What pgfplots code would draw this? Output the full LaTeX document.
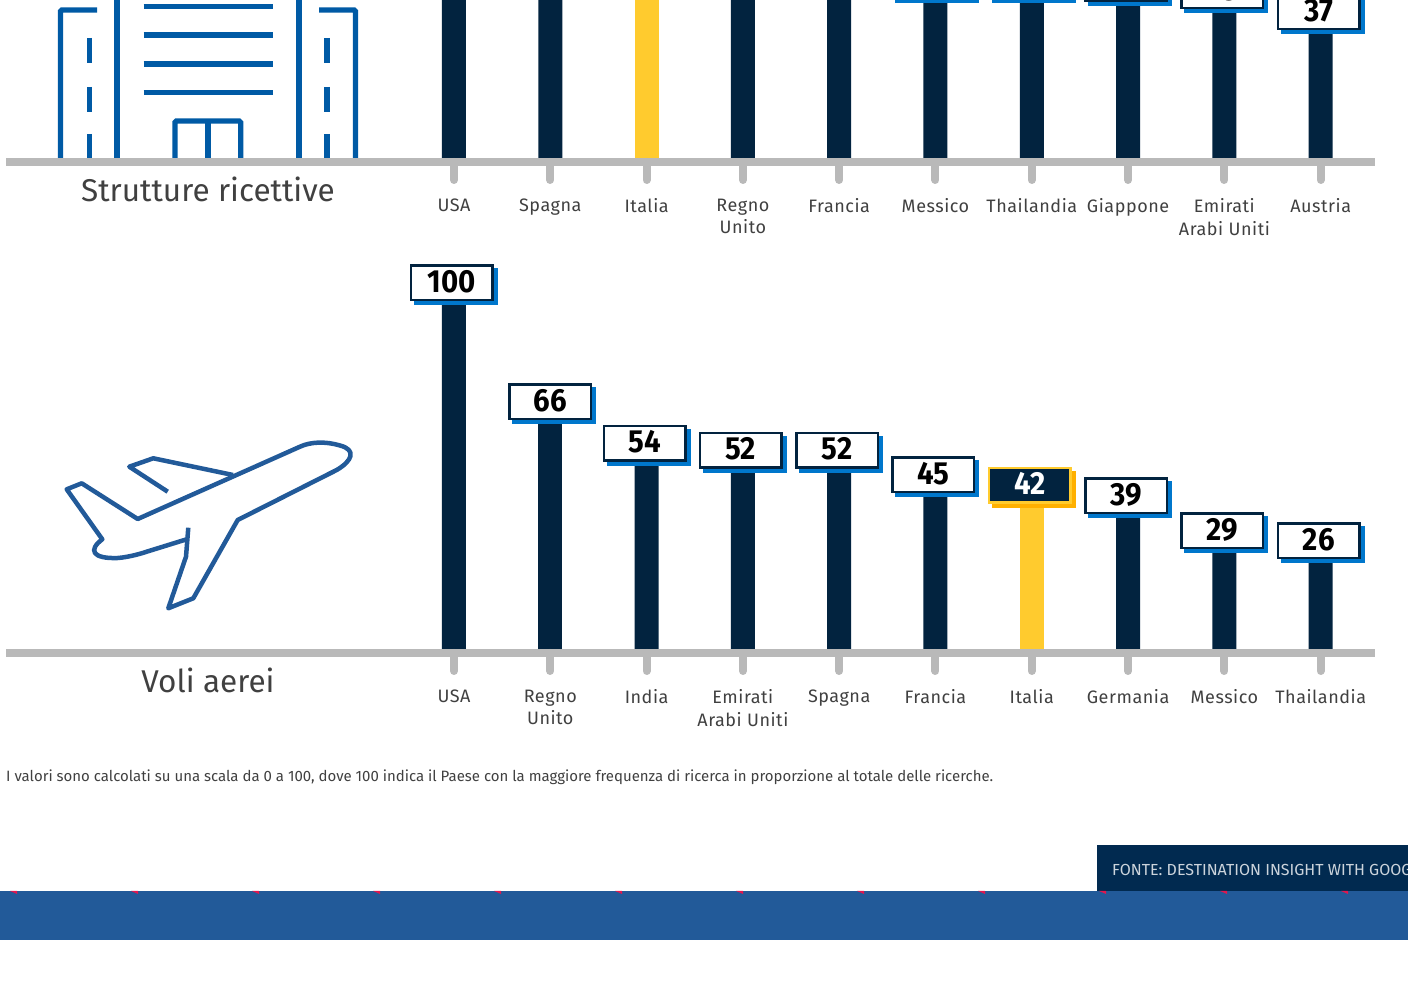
\documentclass[border=0pt]{standalone}
\usepackage{fontspec}
\usepackage{pgfplots}
\usepackage{pgfplotstable}
\pgfplotsset{compat=1.18}
\usetikzlibrary{shadows}
\setmainfont{Fira Sans}
\newfontfamily\lblfont[LetterSpace=3]{Fira Sans}
\newfontfamily\numfont[FakeStretch=0.92]{Fira Sans}
\definecolor{navy}{HTML}{02233F}
\definecolor{sblue}{HTML}{0077CC}
\definecolor{hiyellow}{HTML}{FFCB2E}
\definecolor{hishadow}{HTML}{FFB000}
\definecolor{basegray}{HTML}{B9B9B9}
\definecolor{iconblue}{HTML}{005AA5}
\definecolor{planeblue}{HTML}{225A99}
\definecolor{srcnavy}{HTML}{012A50}
\definecolor{tipred}{HTML}{E0174F}
\definecolor{txt}{HTML}{404040}

% top panel: these bars run off the picture, heights only estimated
\pgfplotstableread{
x y
0 100
1 82
3 64
4 58
}\topoff
\pgfplotstableread{
x y
2 72
}\tophi
\pgfplotstableread{
x y
5 46
6 46
7 45
8 43
9 37
}\topnavy
\pgfplotstableread{
x y
0 100
2 54
3 52
4 52
5 45
7 39
8 29
9 26
}\botnavy
\pgfplotstableread{
x y
1 66
}\botcentred
\pgfplotstableread{
x y
6 42
}\bothi

\tikzset{
  signbox/.style={
    anchor=center, xshift=-2pt, yshift=21.4pt, inner sep=0pt,
    minimum width=81.5pt, minimum height=34.5pt, line width=2.5pt,
  },
}
\pgfplotsset{
  panel/.style={
    x=96.3pt, y=3.486pt,
    xmin=-4.652, xmax=9.564, ymin=0,
    anchor=south west,
    axis x line=bottom,
    axis y line=none,
    axis line style={-, draw=basegray, line width=8pt},
    clip=false,
    axis on top,
    xtick={0,...,9},
    major tick length=18pt,
    x tick style={draw=basegray, line width=8pt, line cap=round},
    xticklabel style={font=\lblfont\fontsize{18}{22.5}\selectfont, text=txt, align=center, anchor=north, yshift=-15.3pt,
      execute at begin node={\rule{0pt}{15pt}}},
    ybar, bar width=24pt, bar shift=0pt,
    /pgf/number format/assume math mode=true,
  },
  boxed/.style={
    nodes near coords={\raisebox{3pt}{\numfont\bfseries\fontsize{32}{32}\selectfont\pgfmathprintnumber{\pgfplotspointmeta}}},
  },
  navybar/.style={
    boxed, fill=navy, draw=none,
    every node near coord/.style={
      signbox, draw=navy, fill=white, text=black,
      general shadow={shadow xshift=4pt, shadow yshift=-4pt, fill=sblue, draw=sblue},
    },
  },
  hibar/.style={
    boxed, fill=hiyellow, draw=none,
    every node near coord/.style={
      signbox, draw=hiyellow, fill=navy, text=white,
      general shadow={shadow xshift=4pt, shadow yshift=-4pt, fill=hishadow, draw=hishadow},
    },
  },
}

\begin{document}
\begin{tikzpicture}
\useasboundingbox (0,0) rectangle (1408pt,993pt);
\clip (0,0) rectangle (1408pt,993pt);

% one-line labels get an empty second line so all first lines sit level
\begin{axis}[panel, at={(6pt,831pt)}, ymax=47,
  xticklabels={{USA\\~},{Spagna\\~},{Italia\\~},{Regno\\Unito},{Francia\\~},{Messico\\~},{Thailandia\\~},{Giappone\\~},{Emirati\\Arabi Uniti},{Austria\\~}}]
  \addplot[fill=navy, draw=none] table[x=x,y=y] {\topoff};
  \addplot[fill=hiyellow, draw=none] table[x=x,y=y] {\tophi};
  \addplot[navybar] table[x=x,y=y] {\topnavy};
\end{axis}

\begin{axis}[panel, at={(6pt,340pt)}, ymax=105,
  xticklabels={{USA\\~},{Regno\\Unito},{India\\~},{Emirati\\Arabi Uniti},{Spagna\\~},{Francia\\~},{Italia\\~},{Germania\\~},{Messico\\~},{Thailandia\\~}}]
  \addplot[navybar] table[x=x,y=y] {\botnavy};
  % this one sign sits centred on its bar
  \addplot[navybar, every node near coord/.append style={xshift=2pt}] table[x=x,y=y] {\botcentred};
  \addplot[hibar] table[x=x,y=y] {\bothi};
\end{axis}

% everything below is in reference pixels, y downwards
\begin{scope}[x=1pt,y=-1pt,yshift=993pt]
  % hotel icon
  \begin{scope}[draw=iconblue, line width=5.3pt]
    \draw[rounded corners=1.5pt] (60.5,158) -- (60.5,10) -- (97,10);
    \draw[rounded corners=1.5pt] (355.5,158) -- (355.5,10) -- (319,10);
    \draw (117,-5) -- (117,158);
    \draw (299,-5) -- (299,158);
    \foreach \yy in {6.5,35,64,92.7} \draw (143.5,\yy) -- (272.7,\yy);
    \foreach \xx in {89.5,327} {
      \draw (\xx,38) -- (\xx,63);
      \draw (\xx,87) -- (\xx,112);
      \draw (\xx,134) -- (\xx,158);
    }
    \draw[rounded corners=1.5pt] (175,158) -- (175,121) -- (240.7,121) -- (240.7,158);
    \draw (208,121) -- (208,158);
  \end{scope}
  % plane icon
  \begin{scope}[draw=planeblue, line width=4.5pt, line join=round]
    \draw (188.3,527.7) -- (186,556.7) -- (168.3,608.3) -- (193.3,598.3) -- (237.7,520)
      -- (336.7,470) .. controls (352,461) and (357,450) .. (340,445.5)
      .. controls (325,441) and (310,442) .. (300,446.7) -- (137.7,519)
      -- (81.7,483.3) -- (66.7,489.3) -- (102.3,539.3)
      .. controls (88,550) and (92,559) .. (118,558)
      .. controls (130,557) and (143,553) .. (146.7,551.7) -- (186.7,539.3);
    \draw (233,475) -- (153.3,458.3) -- (129.3,466.7) -- (167.7,491.7);
  \end{scope}
  \node[font=\fontsize{31.5}{32}\selectfont, text=txt, anchor=base] at (208,202) {Strutture ricettive};
  \node[font=\fontsize{31.5}{32}\selectfont, text=txt, anchor=base] at (208,693) {Voli aerei};
  \node[font=\fontsize{14.97}{15}\selectfont, text=txt, anchor=base west, inner sep=0pt] at (6,782)
    {I valori sono calcolati su una scala da 0 a 100, dove 100 indica il Paese con la maggiore frequenza di ricerca in proporzione al totale delle ricerche.};
  % footer
  \fill[srcnavy] (1097,845) rectangle (1408,891);
  \node[font=\fontsize{16}{16}\selectfont, text=white!80!srcnavy, anchor=base west, inner sep=0pt] at (1112,876)
    {FONTE: DESTINATION INSIGHT WITH GOOGLE};
  \fill[planeblue] (0,891) rectangle (1408,940);
  \foreach \xx in {17,138,259,380,501,622,743,864,985,1106,1227,1348}
    \fill[tipred] (\xx-7,891) -- (\xx,891) -- (\xx,894) -- cycle;
\end{scope}
\end{tikzpicture}
\end{document}
